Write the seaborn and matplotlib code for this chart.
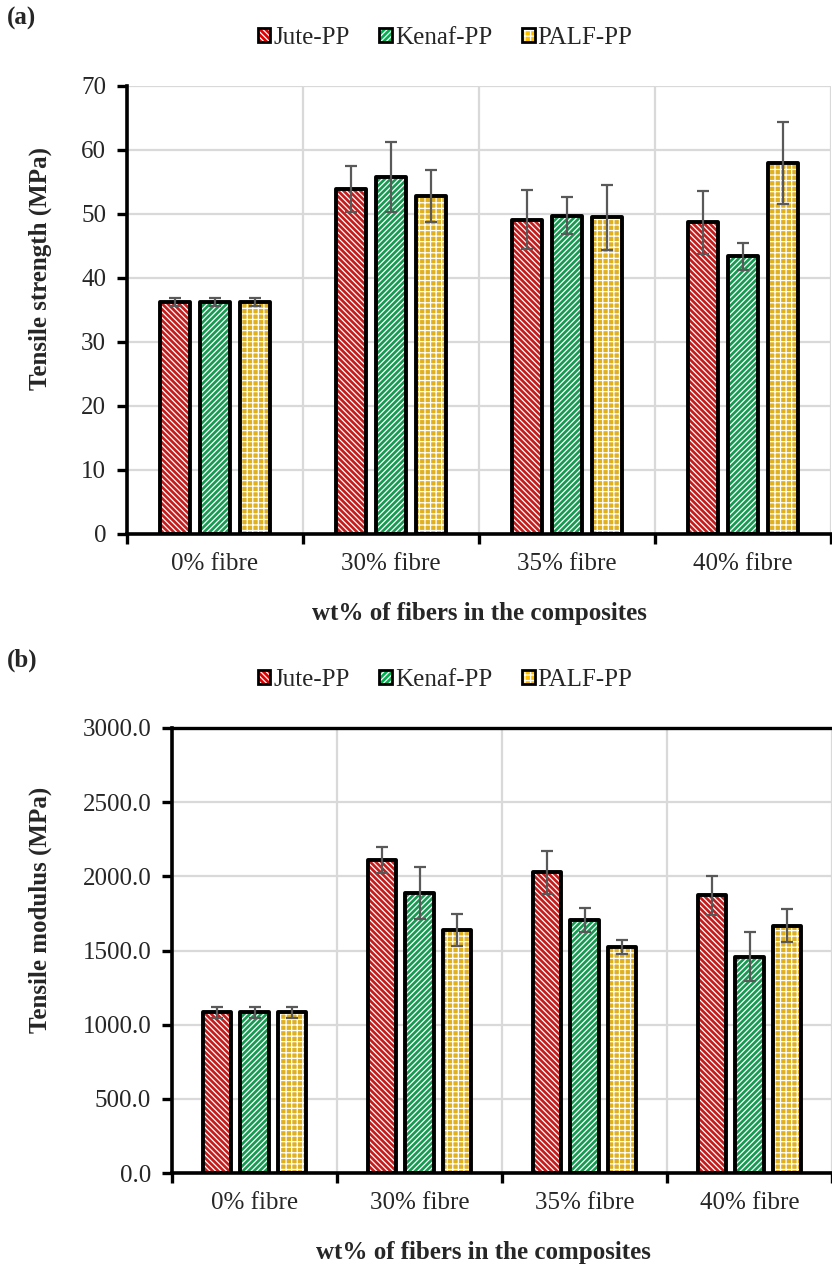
import matplotlib
matplotlib.use("Agg")
import matplotlib.pyplot as plt
from matplotlib.patches import Rectangle, Patch
from matplotlib.legend_handler import HandlerTuple
import seaborn as sns
import pandas as pd

# ---------------- data ----------------
categories = ["0% fibre", "30% fibre", "35% fibre", "40% fibre"]
series = ["Jute-PP", "Kenaf-PP", "PALF-PP"]

jute_strength = [36.2, 53.9, 49.1, 48.7]
kenaf_strength = [36.2, 55.8, 49.7, 43.4]
palf_strength = [36.2, 52.8, 49.5, 57.9]
jute_strength_err = [0.6, 3.6, 4.6, 4.9]
kenaf_strength_err = [0.6, 5.5, 2.9, 2.1]
palf_strength_err = [0.6, 4.0, 5.1, 6.4]

jute_modulus = [1085, 2110, 2027, 1872]
kenaf_modulus = [1085, 1888, 1707, 1459]
palf_modulus = [1085, 1640, 1523, 1667]
jute_modulus_err = [37, 90, 147, 133]
kenaf_modulus_err = [37, 173, 79, 167]
palf_modulus_err = [37, 108, 49, 113]

strength_ticks = [0, 10, 20, 30, 40, 50, 60, 70]
modulus_ticks = [0, 500, 1000, 1500, 2000, 2500, 3000]

colors = ["#E00000", "#00B050", "#FFC000"]
hatches = ["\\\\\\\\\\\\", "//////", "+++"]


def make_df(vals, errs):
    rows = []
    for s, v, e in zip(series, vals, errs):
        for c, vv, ee in zip(categories, v, e):
            rows.append({"cat": c, "composite": s, "val": vv, "err": ee})
    return pd.DataFrame(rows)


df_strength = make_df([jute_strength, kenaf_strength, palf_strength],
                      [jute_strength_err, kenaf_strength_err, palf_strength_err])
df_modulus = make_df([jute_modulus, kenaf_modulus, palf_modulus],
                     [jute_modulus_err, kenaf_modulus_err, palf_modulus_err])

# ---------------- style ----------------
sns.set_theme(style="white")
plt.rcParams["font.family"] = ["Liberation Serif", "DejaVu Serif"]
plt.rcParams["hatch.linewidth"] = 0.9

FS = 18
W, H = 832, 1266
fig = plt.figure(figsize=(W / 100, H / 100), dpi=100)


def fx(px):
    return px / W


def fy(py):
    return 1 - py / H


def draw_panel(ax, df, ticks, fmt, top_spine):
    sns.barplot(data=df, x="cat", y="val", hue="composite", order=categories,
                hue_order=series, palette=colors, width=0.68, gap=0.25,
                errorbar=None, legend=False, ax=ax, zorder=3)
    containers = list(ax.containers)
    for i, cont in enumerate(containers):
        sub = df[df["composite"] == series[i]].set_index("cat").loc[categories]
        xs, ys = [], []
        for bar in cont:
            bar.set_hatch(hatches[i])
            bar.set_edgecolor("white")
            bar.set_linewidth(0)
            outline = Rectangle((bar.get_x(), bar.get_y()), bar.get_width(),
                                bar.get_height(), fill=False, edgecolor="black",
                                linewidth=2.8, joinstyle="round", zorder=4)
            ax.add_patch(outline)
            xs.append(bar.get_x() + bar.get_width() / 2)
            ys.append(bar.get_height())
        ax.errorbar(xs, ys, yerr=sub["err"].values, fmt="none",
                    ecolor="#595959", elinewidth=1.6, capsize=4.3,
                    capthick=1.6, zorder=5)
    ax.set_xlim(-0.5, 3.5)
    ax.set_ylim(ticks[0], ticks[-1])
    ax.set_yticks(ticks)
    ax.set_yticklabels([fmt.format(t) for t in ticks], fontsize=FS)
    ax.set_xticks(range(len(categories)))
    ax.set_xticklabels(categories, fontsize=FS)
    ax.set_xticks([-0.5, 0.5, 1.5, 2.5, 3.5], minor=True)
    ax.tick_params(axis="x", which="major", length=0, pad=14)
    ax.tick_params(axis="x", which="minor", length=7, width=2.4,
                   direction="out", color="black", bottom=True)
    ax.tick_params(axis="y", which="major", length=7, width=2.4,
                   direction="out", color="black", left=True, pad=8)
    ax.yaxis.grid(True, color="#D9D9D9", linewidth=1.6, zorder=0)
    ax.xaxis.grid(True, which="minor", color="#D9D9D9", linewidth=1.6, zorder=0)
    ax.xaxis.grid(False, which="major")
    ax.set_axisbelow(True)
    ax.set_xlabel("")
    ax.set_ylabel("")
    for s in ["left", "bottom"]:
        ax.spines[s].set_color("black")
        ax.spines[s].set_linewidth(2.6)
        ax.spines[s].set_zorder(6)
    ax.spines["right"].set_visible(False)
    if top_spine:
        ax.spines["top"].set_color("black")
        ax.spines["top"].set_linewidth(2.4)
    else:
        ax.spines["top"].set_visible(False)


def add_legend(x, y):
    handles = []
    for c, h in zip(colors, hatches):
        p1 = Patch(facecolor=c, edgecolor="white", hatch=h, linewidth=0)
        p2 = Patch(facecolor="none", edgecolor="black", linewidth=2.0)
        handles.append((p1, p2))
    fig.legend(handles, series, loc="center", bbox_to_anchor=(fx(x), fy(y)),
               ncol=3, frameon=False, fontsize=FS, handlelength=0.5,
               handleheight=0.5, handletextpad=0.12, columnspacing=1.2,
               handler_map={tuple: HandlerTuple(ndivide=1, pad=0)})


# ---------------- panel (a) ----------------
ax1 = fig.add_axes([fx(127), fy(534), fx(831) - fx(127), fy(86) - fy(534)])
draw_panel(ax1, df_strength, strength_ticks, "{:d}", top_spine=False)
fig.text(fx(22), fy(18), "(a)", fontsize=FS, fontweight="bold",
         ha="center", va="center")
add_legend(445, 38)
fig.text(fx(40), fy(268), "Tensile strength (MPa)", fontsize=FS,
         fontweight="bold", rotation=90, ha="center", va="center")
fig.text(fx(479), fy(614), "wt% of fibers in the composites", fontsize=FS,
         fontweight="bold", ha="center", va="center")

# ---------------- panel (b) ----------------
ax2 = fig.add_axes([fx(172), fy(1173), 1.0 - fx(172), fy(728) - fy(1173)])
draw_panel(ax2, df_modulus, modulus_ticks, "{:.1f}", top_spine=True)
fig.text(fx(22), fy(660), "(b)", fontsize=FS, fontweight="bold",
         ha="center", va="center")
add_legend(445, 680)
fig.text(fx(40), fy(910), "Tensile modulus (MPa)", fontsize=FS,
         fontweight="bold", rotation=90, ha="center", va="center")
fig.text(fx(483), fy(1253), "wt% of fibers in the composites", fontsize=FS,
         fontweight="bold", ha="center", va="center")

fig.savefig("out.png", dpi=100)
